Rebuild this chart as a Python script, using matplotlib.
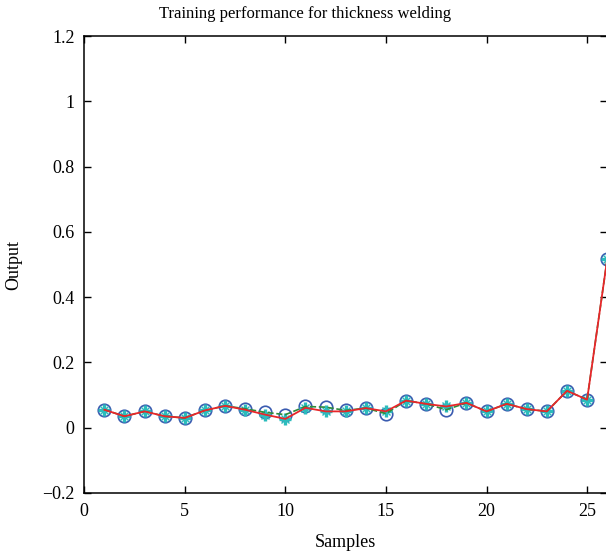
import matplotlib.pyplot as plt
import numpy as np

plt.rcParams['font.family'] = ['Liberation Serif', 'DejaVu Serif']
plt.rcParams['font.size'] = 13

samples = np.arange(1, 27)
target = [0.055, 0.035, 0.050, 0.035, 0.030, 0.053, 0.067, 0.058, 0.047, 0.040,
          0.065, 0.063, 0.053, 0.060, 0.043, 0.083, 0.073, 0.055, 0.076, 0.050,
          0.073, 0.057, 0.050, 0.113, 0.086, 0.517]
output = [0.055, 0.035, 0.050, 0.035, 0.030, 0.053, 0.067, 0.055, 0.040, 0.027,
          0.061, 0.050, 0.050, 0.060, 0.050, 0.083, 0.073, 0.065, 0.076, 0.050,
          0.073, 0.057, 0.050, 0.113, 0.086, 0.517]

fig = plt.figure(figsize=(6.06, 5.57), dpi=100)
ax = fig.add_axes([0.139, 0.115, 0.863, 0.82])

ax.plot(samples, target, 'o', mfc='none', mec='#3a5bb0', ms=9, mew=1.2, zorder=3)
ax.plot(samples, output, linestyle='none', marker='+', color='#2bbcbc',
        ms=9, mew=2.4, zorder=4)
ax.plot(samples, output, linestyle='none', marker='x', color='#2bbcbc',
        ms=6, mew=1.0, zorder=4)
ax.plot(samples, target, '--', color='#2e8b3a', lw=1.2, zorder=5)
ax.plot(samples, output, '-', color='#e8262a', lw=1.3, zorder=6)

ax.set_xlim(0, 26)
ax.set_ylim(-0.2, 1.2)
ax.set_xticks([0, 5, 10, 15, 20, 25])
ax.set_yticks([-0.2, 0, 0.2, 0.4, 0.6, 0.8, 1.0, 1.2])
ax.set_yticklabels(['\u22120.2', '0', '0.2', '0.4', '0.6', '0.8', '1', '1.2'])
ax.tick_params(direction='in', top=True, right=True, length=5, width=1,
               labelsize=13, pad=7)
for s in ax.spines.values():
    s.set_linewidth(1.1)

fig.text(0.503, 0.968, 'Training performance for thickness welding',
         fontsize=12, ha='center', va='baseline')
ax.set_xlabel('Samples', fontsize=13, labelpad=10)
ax.set_ylabel('Output', fontsize=13, labelpad=14)

fig.savefig('out.png', dpi=100)
